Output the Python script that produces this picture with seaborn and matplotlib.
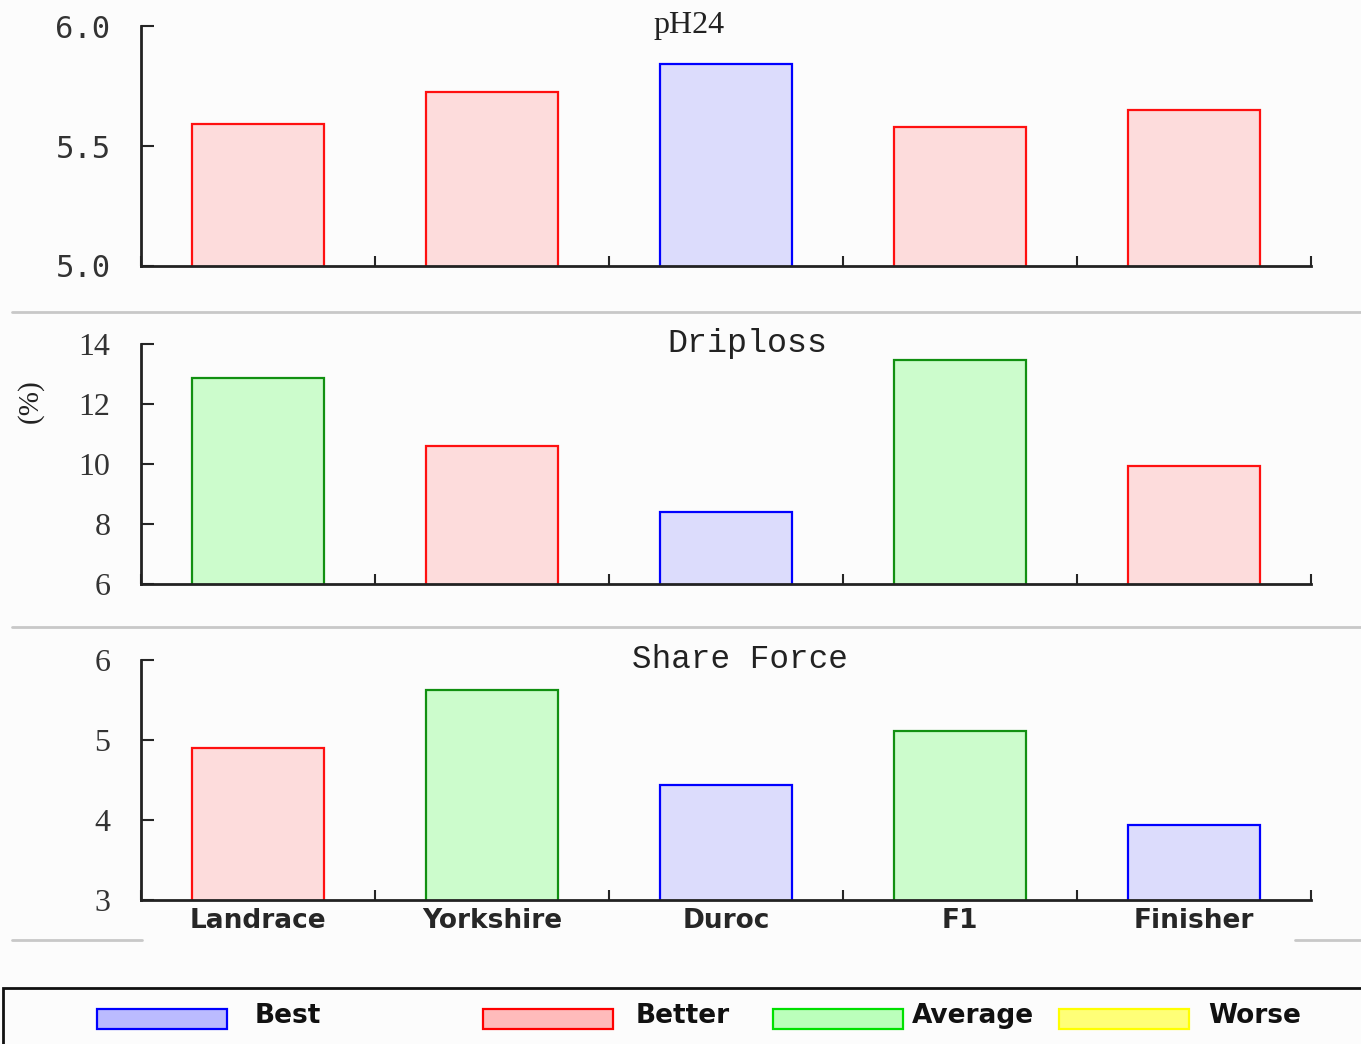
import matplotlib.pyplot as plt
import pandas as pd
import seaborn as sns
from matplotlib.colors import to_hex
from matplotlib.lines import Line2D
from matplotlib.patches import Rectangle

breeds = ["Landrace", "Yorkshire", "Duroc", "F1", "Finisher"]

ph24 = [5.59, 5.725, 5.84, 5.58, 5.65]
ph24_rating = ["Better", "Better", "Best", "Better", "Better"]

driploss = [12.87, 10.6, 8.4, 13.47, 9.93]
driploss_rating = ["Average", "Better", "Best", "Average", "Better"]

shear = [4.9, 5.62, 4.44, 5.11, 3.94]
shear_rating = ["Better", "Average", "Best", "Average", "Best"]

rating_levels = ["Best", "Better", "Average", "Worse"]

bar_fill = {"Best": "#dcdcfc", "Better": "#fddcdc", "Average": "#ccfccc", "Worse": "#fdfdb0"}
bar_edge = {"Best": "#0000ff", "Better": "#ff1010", "Average": "#119011", "Worse": "#e0e000"}
legend_fill = {"Best": "#bbbbff", "Better": "#ffbbbb", "Average": "#bbffbb", "Worse": "#ffff77"}
legend_edge = {"Best": "#0000ff", "Better": "#ff0000", "Average": "#00e000", "Worse": "#ffff00"}

sns.set_style("ticks")

W, H = 1361, 1044
BG = "#fcfcfc"
fig = plt.figure(figsize=(W / 100, H / 100), dpi=100, facecolor=BG)

panels = [
    ("pH24", ph24, ph24_rating, (5.0, 6.0), [5.0, 5.5, 6.0], "{:.1f}", "DejaVu Sans Mono", 22,
     "Liberation Serif", 23, 689, 266),
    ("Driploss", driploss, driploss_rating, (6, 14), [6, 8, 10, 12, 14], "{:d}", "Liberation Serif", 23,
     "Liberation Mono", 24, 747, 584),
    ("Share Force", shear, shear_rating, (3, 6), [3, 4, 5, 6], "{:d}", "Liberation Serif", 23,
     "Liberation Mono", 23.5, 740, 900),
]

ax_left, ax_right = 141, 1311
ax_h = 240
fill_to_rating = {to_hex(v): k for k, v in bar_fill.items()}

for i, (title, vals, rates, ylim, yticks, fmt, tfont, tsize, hfont, hsize, hx, ybot) in enumerate(panels):
    ax = fig.add_axes([ax_left / W, 1 - ybot / H, (ax_right - ax_left) / W, ax_h / H])
    ax.set_facecolor(BG)
    df = pd.DataFrame({"breed": breeds, "value": vals, "rating": rates})
    sns.barplot(data=df, x="breed", y="value", hue="rating", hue_order=rating_levels,
                palette=bar_fill, dodge=False, width=0.56, saturation=1, legend=False, ax=ax)
    for p in ax.patches:
        r = fill_to_rating.get(to_hex(p.get_facecolor()))
        if r is not None:
            p.set_edgecolor(bar_edge[r])
            p.set_linewidth(1.6)
    ax.set_xlim(-0.5, len(breeds) - 0.5)
    ax.set_ylim(*ylim)
    ax.set_yticks(yticks, [fmt.format(t) for t in yticks], fontfamily=tfont, fontsize=tsize, color="#333333")
    ax.tick_params(axis="y", direction="in", length=9, width=1.5, pad=22)
    ax.set_xticks([x + 0.5 for x in range(-1, len(breeds))], minor=True)
    ax.tick_params(axis="x", which="minor", direction="in", length=7, width=1.5)
    ax.tick_params(axis="x", which="major", length=0, pad=6)
    if i == len(panels) - 1:
        ax.set_xticks(range(len(breeds)), breeds, fontweight="bold", fontsize=19,
                      fontfamily="DejaVu Sans")
    else:
        ax.set_xticks(range(len(breeds)), [""] * len(breeds))
    ax.set_xlabel("")
    ax.set_ylabel("")
    sns.despine(ax=ax)
    for s in ("left", "bottom"):
        ax.spines[s].set_linewidth(2)
        ax.spines[s].set_color("#222222")
    ax.text((hx - ax_left) / (ax_right - ax_left), 1.0, title, transform=ax.transAxes,
            ha="center", va="center", fontfamily=hfont, fontsize=hsize, color="#222222")

fig.text(30 / W, 1 - 401 / H, "(%)", rotation=90, ha="center", va="center",
         fontfamily="Liberation Serif", fontsize=21, color="#222222")

# grey separators between panels
sep_color = "#c8c8c8"
for y, segs in [(312, [(12, W)]), (627, [(12, W)]), (940, [(12, 142), (1295, W)])]:
    for x0, x1 in segs:
        fig.add_artist(Line2D([x0 / W, x1 / W], [1 - y / H, 1 - y / H], transform=fig.transFigure,
                              color=sep_color, lw=2))

# legend box
fig.add_artist(Rectangle((3 / W, -0.01), 1.0, (1044 - 988) / H + 0.01, transform=fig.transFigure,
                         facecolor=BG, edgecolor="#111111", lw=2))
patch_x = [97, 483, 773, 1059]
text_x = [255, 636, 912, 1208]
for lvl, px, tx in zip(rating_levels, patch_x, text_x):
    fig.add_artist(Rectangle((px / W, 1 - 1029 / H), 130 / W, 20 / H, transform=fig.transFigure,
                             facecolor=legend_fill[lvl], edgecolor=legend_edge[lvl], lw=1.6))
    fig.text(tx / W, 1 - 1016 / H, lvl, ha="left", va="center", fontweight="bold",
             fontsize=19, fontfamily="DejaVu Sans", color="#111111")

fig.savefig("out.png", dpi=100, facecolor=BG)
